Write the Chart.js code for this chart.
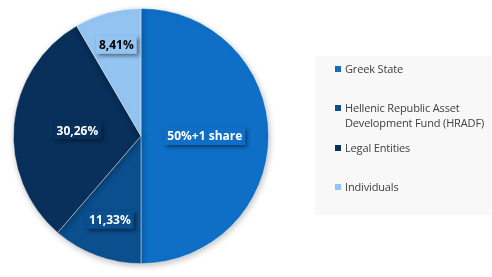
<!DOCTYPE html>
<html>
<head>
<meta charset="utf-8">
<script src="https://cdn.jsdelivr.net/npm/chart.js@4"></script>
<style>
  body { margin: 0; background: #fff; font-family: "Open Sans", sans-serif; }
  #wrap { position: relative; width: 492px; height: 277px; }
  #legend {
    position: absolute; left: 315px; top: 56px; width: 176px; height: 159px;
    background: #f8f8f8; font-size: 11px; color: #404040;
  }
  .item { position: absolute; left: 20px; width: 152px; line-height: 15px; padding-left: 10px; letter-spacing: -0.15px; }
  .item span.sw { position: absolute; left: 0; top: 5px; width: 6px; height: 6px; }
</style>
</head>
<body>
<div id="wrap">
  <canvas id="pie" width="492" height="277"></canvas>
  <div id="legend"></div>
</div>
<script>
// Shareholders
const labels = ['Greek State', 'Hellenic Republic Asset Development Fund (HRADF)', 'Legal Entities', 'Individuals'];
const shares = [50, 11.33, 30.26, 8.41];
const valueLabels = ['50%+1 share', '11,33%', '30,26%', '8,41%'];

const colors = ['#0f6fc6', '#0c4f8f', '#08305a', '#94c5f2'];
const textColors = ['#fff', '#fff', '#fff', '#000'];
const labelRadius = [0.5, 0.7, 0.5, 0.74];
const legendTops = [5, 44, 84, 123];

// legend
const legend = document.getElementById('legend');
labels.forEach((l, i) => {
  const d = document.createElement('div');
  d.className = 'item';
  d.style.top = legendTops[i] + 'px';
  d.innerHTML = '<span class="sw" style="background:' + colors[i] + '"></span>' + l;
  legend.appendChild(d);
});

const boxLabels = {
  id: 'boxLabels',
  beforeDatasetsDraw(chart) {
    const ctx = chart.ctx;
    ctx.save();
    ctx.shadowColor = 'rgba(0,0,0,0.25)';
    ctx.shadowBlur = 6;
    ctx.shadowOffsetX = 1;
    ctx.shadowOffsetY = 2;
  },
  afterDatasetsDraw(chart) {
    const ctx = chart.ctx;
    ctx.restore();
    const meta = chart.getDatasetMeta(0);
    ctx.save();
    ctx.font = 'bold 12px "Open Sans", sans-serif';
    ctx.textAlign = 'center';
    ctx.textBaseline = 'middle';
    meta.data.forEach((arc, i) => {
      const p = arc.getProps(['x', 'y', 'startAngle', 'endAngle', 'outerRadius']);
      const a = (p.startAngle + p.endAngle) / 2;
      const r = p.outerRadius * labelRadius[i];
      const x = p.x + Math.cos(a) * r;
      const y = p.y + Math.sin(a) * r;
      const w = ctx.measureText(valueLabels[i]).width + 6;
      const h = 18;
      ctx.save();
      ctx.shadowColor = 'rgba(0,0,0,0.45)';
      ctx.shadowBlur = 4;
      ctx.shadowOffsetX = 2;
      ctx.shadowOffsetY = 2;
      ctx.fillStyle = colors[i];
      ctx.fillRect(x - w / 2, y - h / 2, w, h);
      ctx.restore();
      ctx.fillStyle = textColors[i];
      ctx.fillText(valueLabels[i], x, y + 1);
    });
    ctx.restore();
  }
};

new Chart(document.getElementById('pie'), {
  type: 'pie',
  data: {
    labels: labels,
    datasets: [{
      data: shares,
      backgroundColor: colors,
      borderColor: 'rgba(255,255,255,0.6)',
      borderWidth: 0.75
    }]
  },
  options: {
    responsive: false,
    animation: false,
    layout: { padding: { left: 13, right: 223, top: 8, bottom: 13 } },
    plugins: {
      legend: { display: false },
      tooltip: { enabled: false }
    }
  },
  plugins: [boxLabels]
});
</script>
</body>
</html>
